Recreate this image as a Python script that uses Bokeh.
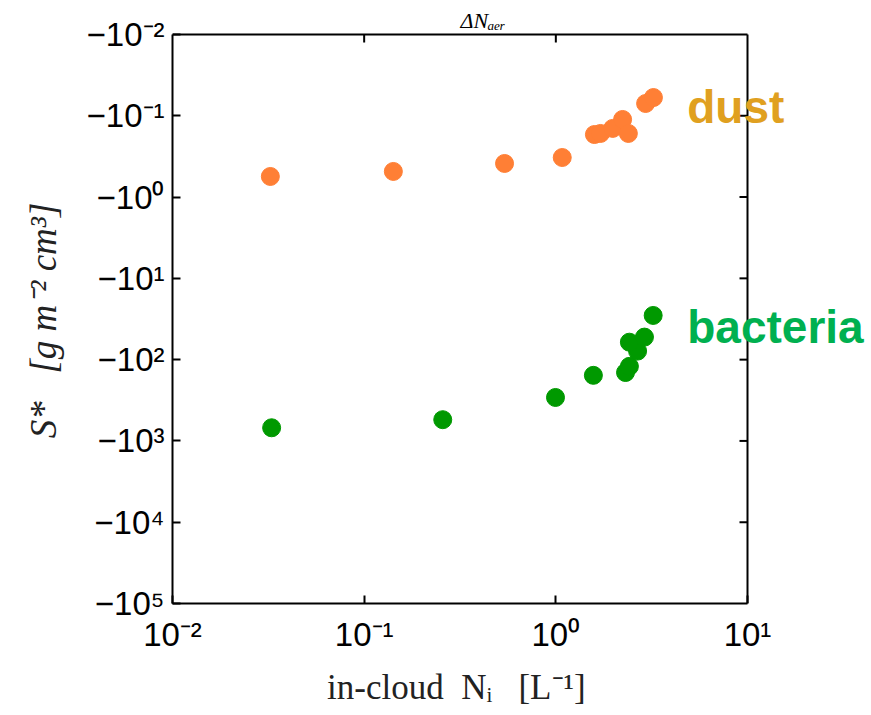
import math
from bokeh.plotting import figure
from bokeh.models import Range1d, FixedTicker, CustomJSTickFormatter, Label
from bokeh.embed import file_html
from bokeh.resources import INLINE

# ---- data ----
dust_ni = [0.0324, 0.142, 0.54, 1.08, 1.59, 1.71, 1.98, 2.23, 2.39, 2.94, 3.23]
dust_s = [0.558, 0.484, 0.386, 0.326, 0.170, 0.165, 0.143, 0.111, 0.165, 0.0706, 0.0596]

bact_ni = [0.0329, 0.257, 0.996, 1.57, 2.31, 2.42, 2.67, 2.42, 2.90, 3.22]
bact_s = [689, 548, 292, 156, 144, 121, 78.5, 61.0, 52.8, 28.6]

x_ticks = [0.01, 0.1, 1, 10]
x_tick_labels = ["10⁻²", "10⁻¹", "10⁰", "10¹"]
y_ticks = [1e-2, 1e-1, 1e0, 1e1, 1e2, 1e3, 1e4, 1e5]
y_tick_labels = ["−10⁻²", "−10⁻¹", "−10⁰", "−10¹", "−10²", "−10³", "−10⁴", "−10⁵"]

NB = "\u00a0"
x_label = "in-cloud" + NB * 2 + "Nᵢ" + NB * 3 + "[L⁻¹]" + NB * 15
y_label = "S*" + NB * 3 + "[g m⁻² cm³]" + NB * 4
top_text = "ΔNₐₑᵣ"

DUST_C = "#FF7F35"
BACT_C = "#009900"

# ---- layout: axes box 575 x 569 px, drawn inside a wider/taller frame so the
# side labels may run past the box edge as in the reference ----
W, H = 871, 715
BOX_L, BOX_R, BOX_T, BOX_B = 172, 747, 34, 603
xmin, xmax = x_ticks[0], x_ticks[-1]
ytop, ybot = y_ticks[0], y_ticks[-1]
px_per_dec_x = (BOX_R - BOX_L) / (math.log10(xmax) - math.log10(xmin))
px_per_dec_y = (BOX_B - BOX_T) / (math.log10(ybot) - math.log10(ytop))
x_end = 10 ** (math.log10(xmax) + (W - BOX_R) / px_per_dec_x)
y_end = 10 ** (math.log10(ytop) - BOX_T / px_per_dec_y)

p = figure(width=W, height=H, x_axis_type="log", y_axis_type="log",
           x_range=Range1d(xmin, x_end), y_range=Range1d(ybot, y_end),
           output_backend="svg", toolbar_location=None,
           min_border_left=BOX_L, min_border_right=0,
           min_border_top=0, min_border_bottom=H - BOX_B)
p.background_fill_color = "white"
p.border_fill_color = "white"
p.grid.visible = False
p.outline_line_color = None

code = """
let best = 0, bd = Infinity;
for (let i = 0; i < tvals.length; i++) {
  const d = Math.abs(Math.log10(tvals[i]) - Math.log10(tick));
  if (d < bd) { bd = d; best = i; }
}
return labs[best];
"""

xa = p.xaxis[0]
xa.ticker = FixedTicker(ticks=x_ticks)
xa.formatter = CustomJSTickFormatter(args=dict(tvals=x_ticks, labs=x_tick_labels), code=code)
xa.bounds = (xmin, xmax)
ya = p.yaxis[0]
ya.ticker = FixedTicker(ticks=y_ticks)
ya.formatter = CustomJSTickFormatter(args=dict(tvals=y_ticks, labs=y_tick_labels), code=code)
ya.bounds = (ytop, ybot)

for ax in (xa, ya):
    ax.axis_line_color = "black"
    ax.axis_line_width = 2
    ax.major_tick_line_color = "black"
    ax.major_tick_line_width = 2
    ax.major_tick_in = 8
    ax.major_tick_out = 0
    ax.minor_tick_in = 0
    ax.minor_tick_out = 0
    ax.major_label_text_font = "Liberation Sans"
    ax.major_label_text_font_size = "33px"
    ax.major_label_text_color = "black"
    ax.axis_label_text_font = "Liberation Serif"
    ax.axis_label_text_color = "#222222"

xa.axis_label = x_label
xa.axis_label_text_font_size = "35px"
xa.axis_label_text_font_style = "normal"
xa.major_label_standoff = 12
xa.axis_label_standoff = 12
ya.axis_label = y_label
ya.axis_label_text_font_size = "37px"
ya.axis_label_text_font_style = "italic"
ya.major_label_standoff = 8
ya.axis_label_standoff = 20

# top and right sides of the axes box, with inward ticks
p.segment(x0=[xmin], y0=[ytop], x1=[xmax], y1=[ytop], line_color="black", line_width=2)
p.segment(x0=[xmax], y0=[ytop], x1=[xmax], y1=[ybot], line_color="black", line_width=2)
p.ray(x=x_ticks[1:-1], y=[ytop] * (len(x_ticks) - 2), length=8, length_units="screen",
      angle=-math.pi / 2, line_color="black", line_width=2)
p.ray(x=[xmax] * (len(y_ticks) - 2), y=y_ticks[1:-1], length=8, length_units="screen",
      angle=math.pi, line_color="black", line_width=2)

p.scatter(dust_ni, dust_s, size=18, fill_color=DUST_C, line_color=DUST_C)
p.scatter(bact_ni, bact_s, size=18, fill_color=BACT_C, line_color=BACT_C)

p.add_layout(Label(x=4.85, y=0.0769, text="dust", text_color="#E0A020",
                   text_font="Liberation Sans", text_font_style="bold",
                   text_font_size="46px", text_baseline="alphabetic", text_align="left"))
p.add_layout(Label(x=4.85, y=40.2, text="bacteria", text_color="#00B050",
                   text_font="Liberation Sans", text_font_style="bold",
                   text_font_size="46px", text_baseline="alphabetic", text_align="left"))
p.add_layout(Label(x=0.318, y=0.0068, text=top_text, text_color="black",
                   text_font="Liberation Serif", text_font_style="italic",
                   text_font_size="22px", text_baseline="alphabetic", text_align="left"))

open("out.html", "w").write(file_html(p, INLINE))
